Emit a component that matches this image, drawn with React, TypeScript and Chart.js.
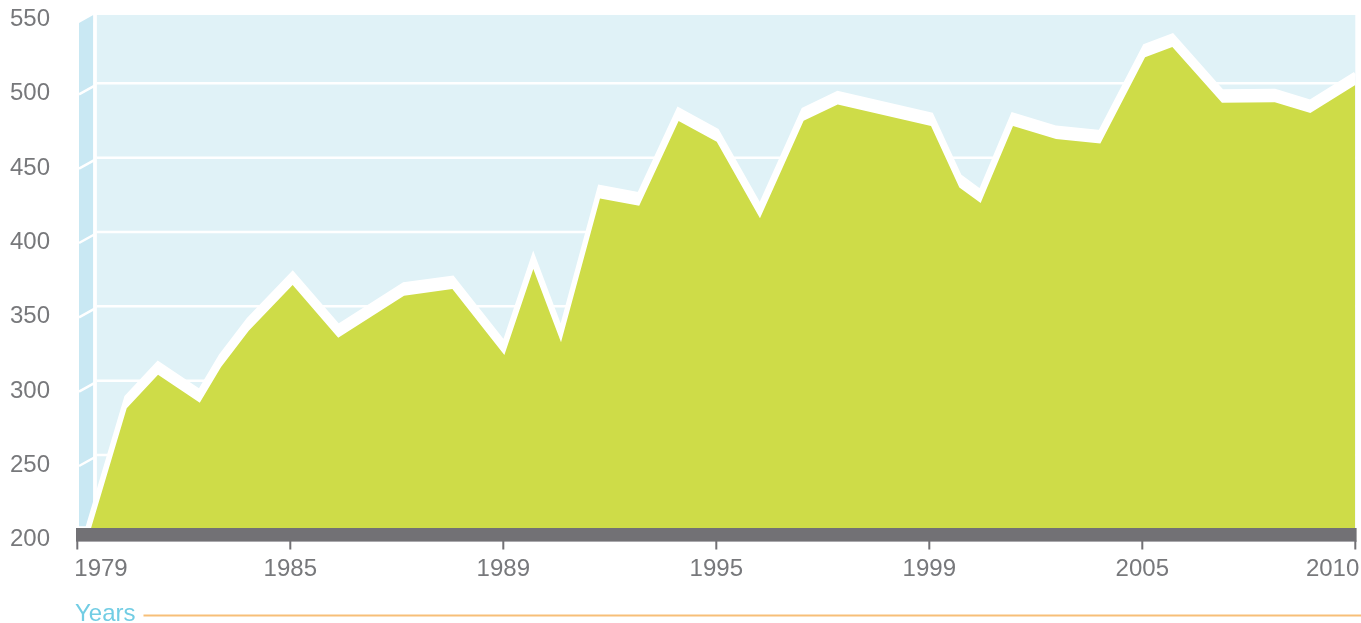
import React, { useEffect, useRef } from 'react';
import { Chart, registerables } from 'chart.js';

Chart.register(...registerables);

// ---- data ----
const X_LABELS = ['1979', '1985', '1989', '1995', '1999', '2005', '2010'];
const Y_TICKS = [200, 250, 300, 350, 400, 450, 500, 550];
const X_POS = [
  0.063, 0.232, 0.379, 0.575, 0.675, 0.805, 1.011, 1.225, 1.534, 1.761, 2.005,
  2.141, 2.271, 2.454, 2.638, 2.823, 3.002, 3.205, 3.41, 3.57, 4.008, 4.141,
  4.241, 4.393, 4.595, 4.803, 5.013, 5.141, 5.374, 5.622, 5.789, 6.0,
];
const VALUES = [
  200, 281.4, 304.0, 285.1, 309.2, 333.6, 364.3, 328.9, 357.1, 361.6, 317.2,
  375.1, 325.8, 422.6, 417.6, 474.6, 460.7, 409.2, 474.8, 485.8, 471.3, 430.0,
  419.5, 471.3, 462.5, 459.6, 517.5, 524.4, 486.9, 487.2, 480.0, 498.8,
];
const AXIS_TITLE = 'Years';

// ---- style ----
const WALL_TOP = 546;
const FONT = '24px "Liberation Sans", Arial, sans-serif';
const C_BACK = '#e0f2f7';
const C_SIDE = '#c9e8f3';
const C_GREEN = '#cedc48';
const C_BAR = '#727175';
const C_TEXT = '#77787b';
const C_TITLE = '#72cde4';
const C_ORANGE = '#f7bf78';
const BAND_PX = 11;

const decor = {
  id: 'decor',
  beforeDatasetsDraw(chart: any) {
    const { ctx, chartArea, scales } = chart;
    const y = scales.y;
    const left = chartArea.left;
    const right = chartArea.right;
    const bottom = y.getPixelForValue(Y_TICKS[0]);
    const top = y.getPixelForValue(WALL_TOP);
    const wallL = left + 1.7;
    const wallR = left + 16;
    const backL = left + 19.4;
    ctx.save();
    // back wall
    ctx.fillStyle = C_BACK;
    ctx.fillRect(backL, top, right - backL, bottom - top);
    // side wall
    ctx.fillStyle = C_SIDE;
    ctx.beginPath();
    ctx.moveTo(wallL, top + 8);
    ctx.lineTo(wallR, top);
    ctx.lineTo(wallR, bottom - 3);
    ctx.lineTo(wallL, bottom - 3);
    ctx.closePath();
    ctx.fill();
    // grid lines
    ctx.strokeStyle = '#ffffff';
    ctx.lineWidth = 2.5;
    Y_TICKS.slice(1, -1).forEach((v) => {
      const py = y.getPixelForValue(v);
      ctx.beginPath();
      ctx.moveTo(backL, py);
      ctx.lineTo(right, py);
      ctx.stroke();
      ctx.beginPath();
      ctx.moveTo(wallL, py + 11);
      ctx.lineTo(wallR + 1, py + 2.5);
      ctx.stroke();
    });
    // divider between side wall and back wall
    ctx.fillStyle = '#ffffff';
    ctx.fillRect(wallR, top, backL - wallR, bottom - top);
    // white band above the area
    const pts = chart.getDatasetMeta(0).data;
    if (pts.length > 1) {
      const p0 = pts[0];
      const p1 = pts[1];
      const startX = p0.x - (BAND_PX * (p1.x - p0.x)) / Math.max(p0.y - p1.y, 1);
      const trace = () => {
        ctx.beginPath();
        ctx.moveTo(startX, p0.y);
        for (let i = 1; i < pts.length; i++) ctx.lineTo(pts[i].x, pts[i].y - BAND_PX);
      };
      ctx.save();
      ctx.beginPath();
      ctx.rect(left, top, right - left, bottom - top);
      ctx.clip();
      ctx.fillStyle = '#ffffff';
      ctx.strokeStyle = '#ffffff';
      ctx.lineWidth = 5;
      ctx.lineJoin = 'miter';
      ctx.miterLimit = 3;
      trace();
      ctx.lineTo(pts[pts.length - 1].x, bottom);
      ctx.lineTo(p0.x, bottom);
      ctx.closePath();
      ctx.fill();
      trace();
      ctx.stroke();
      ctx.restore();
    }
    ctx.restore();
  },
  afterDatasetsDraw(chart: any) {
    const { ctx, chartArea, scales } = chart;
    const x = scales.x;
    const y = scales.y;
    const left = chartArea.left;
    const right = chartArea.right;
    const bottom = y.getPixelForValue(Y_TICKS[0]);
    ctx.save();
    // base bar
    const barTop = bottom - 1.3;
    const barBottom = bottom + 12.2;
    ctx.fillStyle = C_BAR;
    ctx.fillRect(left - 1.3, barTop, right - left + 2.6, barBottom - barTop);
    ctx.fillStyle = '#a9a8ac';
    ctx.fillRect(left - 1.3, barBottom - 0.5, right - left + 2.6, 1);
    // ticks and x labels
    ctx.font = FONT;
    ctx.textBaseline = 'alphabetic';
    X_LABELS.forEach((lab, i) => {
      const px = x.getPixelForValue(i);
      ctx.fillStyle = C_BAR;
      const tx = Math.min(Math.max(px - 1, left - 1.3), right - 0.7);
      ctx.fillRect(tx, barBottom - 1, 2, 9);
      ctx.fillStyle = C_TEXT;
      ctx.textAlign = i === 0 ? 'left' : i === X_LABELS.length - 1 ? 'right' : 'center';
      const lx = i === 0 ? px - 3 : i === X_LABELS.length - 1 ? px + 4 : px;
      ctx.fillText(lab, lx, barBottom + 34.5);
    });
    // y labels
    ctx.textAlign = 'right';
    ctx.fillStyle = C_TEXT;
    Y_TICKS.forEach((v) => {
      const py = y.getPixelForValue(v);
      ctx.fillText(String(v), 50, py + 17);
    });
    // axis title + rule
    ctx.textAlign = 'left';
    ctx.fillStyle = C_TITLE;
    ctx.fillText(AXIS_TITLE, left - 2.3, 621);
    const tw = ctx.measureText(AXIS_TITLE).width;
    ctx.fillStyle = C_ORANGE;
    ctx.fillRect(left - 2.3 + tw + 8, 614.5, chart.width - (left - 2.3 + tw + 8), 2);
    ctx.restore();
  },
};

export default function App() {
  const ref = useRef<HTMLCanvasElement | null>(null);
  useEffect(() => {
    if (!ref.current) return;
    const points = X_POS.map((px, i) => ({ x: px, y: VALUES[i] }));
    const chart = new Chart(ref.current, {
      type: 'line',
      data: {
        datasets: [
          {
            data: points,
            fill: 'start',
            backgroundColor: C_GREEN,
            borderWidth: 0,
            borderColor: C_GREEN,
            pointRadius: 0,
            tension: 0,
          },
        ],
      },
      options: {
        responsive: false,
        animation: false,
        devicePixelRatio: 1,
        layout: { padding: { left: 77.3, right: 5.7, top: 9, bottom: 93.7 } },
        scales: {
          x: { type: 'linear', min: 0, max: X_LABELS.length - 1, display: false },
          y: { type: 'linear', min: Y_TICKS[0], max: Y_TICKS[Y_TICKS.length - 1], display: false },
        },
        plugins: { legend: { display: false }, tooltip: { enabled: false } },
      },
      plugins: [decor],
    });
    return () => chart.destroy();
  }, []);
  return (
    <div style={{ position: 'fixed', left: 0, top: 0, width: 1361, height: 623, background: '#fff' }}>
      <canvas ref={ref} width={1361} height={623} style={{ display: 'block' }} />
    </div>
  );
}
